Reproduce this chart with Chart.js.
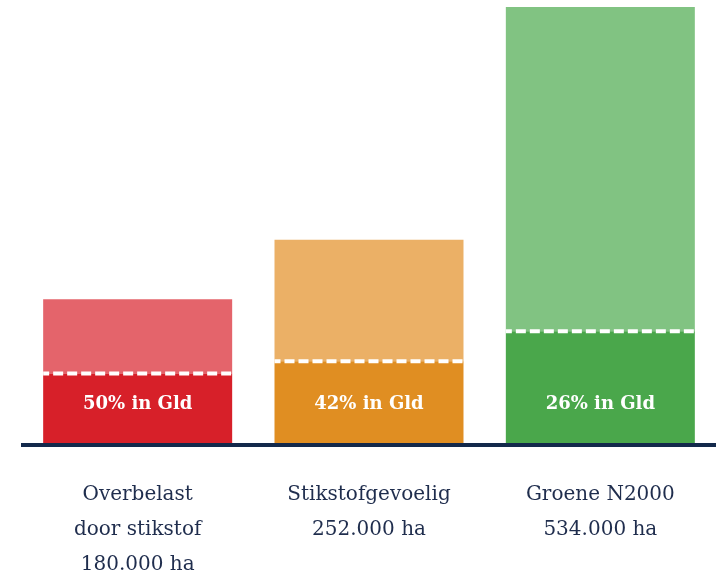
<!DOCTYPE html>
<html>
<head>
<meta charset="utf-8">
<script src="https://cdn.jsdelivr.net/npm/chart.js@4"></script>
<style>
  html, body { margin: 0; padding: 0; background: #fff; }
  #chartGld { display: block; }
</style>
</head>
<body>
<canvas id="chartGld" width="719" height="577"></canvas>
<script>
// x 1000 ha, zoals
const categories = [
  ['Overbelast', 'door stikstof', '180.000 ha'],
  ['Stikstofgevoelig', '252.000 ha'],
  ['Groene N2000', '534.000 ha']
];
const inGelderland = [85, 100, 137];
const buitenGelderland = [91, 149, 397];
const gldLabels = ['50% in Gld', '42% in Gld', '26% in Gld'];

const donker = ['#d72029', '#e08e22', '#4aa74b'];
const licht = ['#e4646b', '#ebb066', '#81c382'];
const navy = '#13294b';

const streepjes = {
  id: 'streepjes',
  afterDatasetsDraw(chart) {
    const ctx = chart.ctx;
    const area = chart.chartArea;
    const bars = chart.getDatasetMeta(0).data;
    ctx.save();
    // witte stippellijn op de grens
    ctx.strokeStyle = '#fff';
    ctx.lineWidth = 4;
    ctx.setLineDash([10, 4]);
    ctx.lineDashOffset = 4;
    bars.forEach(function (bar) {
      const p = bar.getProps(['x', 'y', 'width'], true);
      ctx.beginPath();
      ctx.moveTo(p.x - p.width / 2, p.y);
      ctx.lineTo(p.x + p.width / 2, p.y);
      ctx.stroke();
    });
    ctx.setLineDash([]);
    // basislijn
    ctx.strokeStyle = navy;
    ctx.lineWidth = 4;
    ctx.beginPath();
    ctx.moveTo(area.left - 1, area.bottom + 2);
    ctx.lineTo(area.right, area.bottom + 2);
    ctx.stroke();
    ctx.fillStyle = '#fff';
    ctx.font = 'bold 18px "DejaVu Serif"';
    ctx.textAlign = 'center';
    ctx.textBaseline = 'middle';
    bars.forEach(function (bar, i) {
      ctx.fillText(gldLabels[i], bar.x, area.bottom - 39);
    });
    ctx.restore();
  }
};

new Chart(document.getElementById('chartGld'), {
  type: 'bar',
  data: {
    labels: categories,
    datasets: [{
      label: 'in Gelderland',
      data: inGelderland,
      backgroundColor: donker
    }, {
      label: 'buiten Gelderland',
      data: buitenGelderland,
      backgroundColor: licht
    }]
  },
  options: {
    responsive: false,
    devicePixelRatio: 1,
    animation: false,
    categoryPercentage: 1,
    barPercentage: 0.817,
    layout: { padding: { top: 7, left: 22, right: 3, bottom: 0 } },
    plugins: {
      legend: { display: false },
      tooltip: { enabled: false }
    },
    scales: {
      y: { display: false, stacked: true, min: 0, max: 534 },
      x: {
        stacked: true,
        grid: { display: false, drawTicks: false },
        border: { display: false },
        ticks: {
          color: '#1f2d4d',
          padding: 34,
          font: { family: '"DejaVu Serif"', size: 20, lineHeight: 1.75 }
        },
        afterFit(scale) { scale.height = 134; }
      }
    }
  },
  plugins: [streepjes]
});
</script>
</body>
</html>
